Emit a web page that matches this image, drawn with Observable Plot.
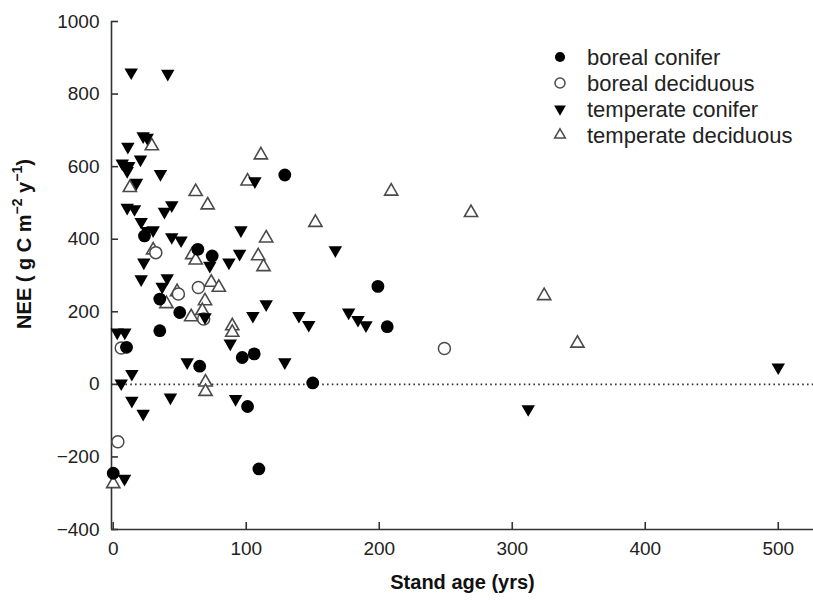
<!DOCTYPE html>
<html>
<head>
<meta charset="utf-8">
<script src="https://cdn.jsdelivr.net/npm/d3@7"></script>
<script src="https://cdn.jsdelivr.net/npm/@observablehq/plot@0.6"></script>
<style>
  html, body { margin: 0; padding: 0; background: #fff; }
  #chart { width: 813px; height: 601px; }
</style>
</head>
<body>
<div id="chart"></div>
<script>
// ---- axis settings ----
const xDomain = [-1.3, 526.5];
const yDomain = [-400, 1000];
const xTicks = [0, 100, 200, 300, 400, 500];
const yTicks = [-400, -200, 0, 200, 400, 600, 800, 1000];

// ---- series (stand age in yrs, NEE in g C m-2 y-1) ----
const borealConiferAge = [129, 23.5, 63.6, 74.4, 35, 50, 35, 10, 97, 106, 65, 101, 0, 109.5, 199, 206, 150];
const borealConiferNee = [577, 409, 372, 354, 235, 198, 148, 102, 74, 84, 50, -61, -245, -233, 270, 159, 4];

const borealDeciduousAge = [32, 64, 49, 68, 6, 3.5, 249];
const borealDeciduousNee = [363, 267, 249, 180, 100, -158, 99];

const temperateConiferAge = [13.5, 41, 22.5, 25.5, 11, 6.8, 11.7, 10.5, 20.5, 35.5, 17.5, 106.5, 10.5, 16, 38.5, 44, 21, 25.5, 30, 44, 51, 96, 72.6, 87, 95, 23, 21, 40.6, 36.8, 69, 115, 105, 88, 3, 8.7, 55.6, 129, 14, 6, 14, 22.5, 43, 92, 8.5, 167, 139.6, 147, 177, 184, 190, 312, 500];
const temperateConiferNee = [860, 856, 684, 680, 655, 609, 602, 588, 620, 580, 556, 560, 487, 483, 476, 494, 448, 423, 425, 406, 397, 425, 327, 336, 360, 336, 290, 293, 269, 185, 221, 189, 113, 143, 143, 61, 61, 29, 3, -45, -81, -36, -40, -260, 370, 189, 164, 198, 178, 163, -68, 47];

const temperateDeciduousAge = [29, 12.5, 62, 111, 101, 71, 115, 59.4, 62, 109, 113, 73.7, 79.4, 48, 40, 69, 67, 58.6, 89.5, 89.5, 69.4, 69.4, 0, 152, 209, 269, 324, 349, 30];
const temperateDeciduousNee = [657, 542, 531, 632, 560, 494, 403, 357, 342, 354, 324, 281, 267, 255, 222, 230, 203, 186, 161, 143, 6, -20, -274, 446, 532, 473, 244, 113, 370];

const seriesNames = ["boreal conifer", "boreal deciduous", "temperate conifer", "temperate deciduous"];

const zip = (a, b) => a.map((v, i) => ({age: v, nee: b[i]}));
const bc = zip(borealConiferAge, borealConiferNee);
const bd = zip(borealDeciduousAge, borealDeciduousNee);
const tc = zip(temperateConiferAge, temperateConiferNee);
const td = zip(temperateDeciduousAge, temperateDeciduousNee);

const axisColor = "#333";
const openStroke = "#4a4a4a";
const fmt = d3.format("d");

const chart = Plot.plot({
  width: 813,
  height: 601,
  marginLeft: 111,
  marginRight: 0,
  marginTop: 21,
  marginBottom: 72,
  style: {fontFamily: "'Liberation Sans', Arial, sans-serif", fontSize: "19px", color: "#222", background: "#fff"},
  x: {domain: xDomain},
  y: {domain: yDomain},
  marks: [
    Plot.ruleY([0], {stroke: "#333", strokeWidth: 1.6, strokeDasharray: "1.6,3.2"}),
    Plot.ruleY([yDomain[0]], {stroke: axisColor, strokeWidth: 1.6}),
    Plot.ruleX([xDomain[0]], {stroke: axisColor, strokeWidth: 1.6}),
    Plot.axisX(xTicks, {tickSize: -7, tickPadding: 19, label: null, tickFormat: fmt, stroke: axisColor, strokeWidth: 1.6, fill: "#222"}),
    Plot.axisY(yTicks, {tickSize: -7, tickPadding: 19, label: null, tickFormat: fmt, stroke: axisColor, strokeWidth: 1.6, fill: "#222"}),
    Plot.text(["Stand age (yrs)"], {frameAnchor: "bottom", dy: 59, fontWeight: "bold", fontSize: 20, fill: "#111"}),
    Plot.dot(td, {x: "age", y: "nee", symbol: "triangle", r: 4.9, fill: "white", stroke: openStroke, strokeWidth: 1.6}),
    Plot.dot(bd, {x: "age", y: "nee", symbol: "circle", r: 6, fill: "white", stroke: openStroke, strokeWidth: 1.5}),
    Plot.dot(bc, {x: "age", y: "nee", symbol: "circle", r: 6.4, fill: "#000"}),
    Plot.dot(tc, {x: "age", y: "nee", symbol: "triangle", rotate: 180, r: 5, fill: "#000"})
  ]
});

document.getElementById("chart").appendChild(chart);

// y-axis title with superscripts
const svg = d3.select(chart);
const yt = svg.append("text")
  .attr("transform", "translate(26,244) rotate(-90)")
  .attr("text-anchor", "middle")
  .attr("dominant-baseline", "middle")
  .attr("font-family", "'Liberation Sans', Arial, sans-serif")
  .attr("font-size", 20)
  .attr("font-weight", "bold")
  .attr("fill", "#111");
yt.append("tspan").text("NEE ( g C m");
yt.append("tspan").attr("dy", -8).attr("font-size", 14).text("\u22122");
yt.append("tspan").attr("dy", 8).text(" y");
yt.append("tspan").attr("dy", -8).attr("font-size", 14).text("\u22121");
yt.append("tspan").attr("dy", 8).text(")");

// legend
const legendStyles = [
  {symbol: d3.symbolCircle, size: 80, fill: "#000", stroke: "none", rotate: 0},
  {symbol: d3.symbolCircle, size: 80, fill: "white", stroke: openStroke, rotate: 0},
  {symbol: d3.symbolTriangle, size: 60, fill: "#000", stroke: "none", rotate: 180},
  {symbol: d3.symbolTriangle, size: 50, fill: "white", stroke: openStroke, rotate: 0}
];
const lg = svg.append("g").attr("transform", "translate(560,57)");
seriesNames.forEach((name, i) => {
  const s = legendStyles[i];
  const row = lg.append("g").attr("transform", `translate(0,${i * 26})`);
  row.append("path")
    .attr("d", d3.symbol(s.symbol, s.size)())
    .attr("transform", `rotate(${s.rotate})`)
    .attr("fill", s.fill)
    .attr("stroke", s.stroke)
    .attr("stroke-width", 1.5);
  row.append("text")
    .attr("x", 27)
    .attr("dy", "0.35em")
    .attr("text-anchor", "start")
    .attr("font-family", "'Liberation Sans', Arial, sans-serif")
    .attr("font-size", 22)
    .attr("fill", "#222")
    .text(name);
});
</script>
</body>
</html>
